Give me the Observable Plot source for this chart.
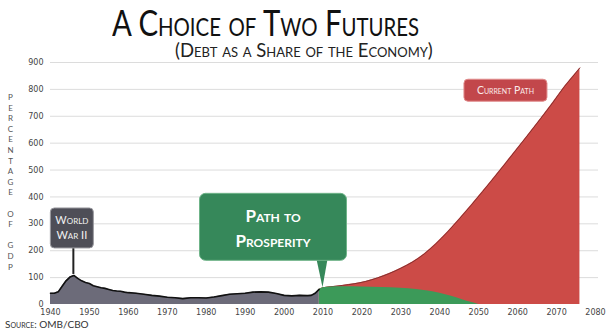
<!DOCTYPE html>
<html>
<head>
<meta charset="utf-8">
<script src="https://cdn.jsdelivr.net/npm/d3@7"></script>
<script src="https://cdn.jsdelivr.net/npm/@observablehq/plot@0.6"></script>
<style>
  html, body { margin: 0; padding: 0; background: #fff; }
  #wrap { position: relative; width: 613px; height: 334px; overflow: hidden; }
  #chart { position: absolute; left: 0; top: 0; }
  .ov { position: absolute; white-space: nowrap; color: #1a1a1a; }
  #title { left: 112px; top: 7px; font: 400 36px/30px Lato, sans-serif; font-variant-caps: small-caps; color: #111; transform-origin: 0 0; transform: scaleX(0.815); }
  #subtitle { left: 175px; top: 42px; font: 400 18.5px/16px Lato, sans-serif; font-variant-caps: small-caps; color: #222; }
  #source { left: 5px; top: 319px; font: 400 10px/10px Lato, sans-serif; font-variant-caps: small-caps; color: #333; }
  .yl { position: absolute; left: 6px; width: 9px; text-align: center; font: 400 8px/8px Lato, sans-serif; color: #555; }
</style>
</head>
<body>
<div id="wrap">
  <div id="chart"></div>
  <div id="title" class="ov">A Choice of Two Futures</div>
  <div id="subtitle" class="ov">(Debt as a Share of the Economy)</div>
  <div id="source" class="ov">Source: OMB/CBO</div>
</div>
<script>
// ---- data ----
const xTicks = [1940,1950,1960,1970,1980,1990,2000,2010,2020,2030,2040,2050,2060,2070,2080];
const yTicks = [0,100,200,300,400,500,600,700,800,900];

const histYears = [1940,1941,1942,1943,1944,1945,1946,1947,1948,1949,1950,1951,1952,1953,1954,1955,1956,1957,1958,1959,1960,1962,1964,1966,1968,1970,1972,1974,1976,1978,1980,1982,1984,1986,1988,1990,1992,1994,1996,1998,2000,2002,2004,2006,2007,2008,2009];
const histDebt  = [42,42,47,68,88,102,108,97,88,82,78,70,66,62,60,56,52,50,49,46,44,42,38,34,31,27,25,22,25,25,24,28,33,38,40,42,46,47,46,41,34,32,34,33,34,42,56];

const prosperityYears = [2009,2010,2012,2015,2020,2025,2030,2034,2037,2040,2043,2046,2048,2050];
const prosperityDebt  = [56,62,65,66,65,63,60,56,50,42,31,17,8,0];

const currentYears = [2009,2010,2012,2015,2018,2021,2024,2027,2030,2033,2036,2039,2042,2045,2048,2051,2054,2057,2060,2063,2066,2069,2072,2074,2076];
const currentDebt  = [56,62,66,71,77,86,99,115,135,158,188,226,270,318,368,420,473,527,582,637,693,750,810,845,880];

const yLabelLetters = ["P","E","R","C","E","N","T","A","G","E","","O","F","","G","D","P"];

const callouts = [
  {lines: ["World", "War II"], year: 1946, value: 108},
  {lines: ["Path to", "Prosperity"], year: 2010, value: 62},
  {lines: ["Current Path"], year: 2057, value: 795}
];

// ---- tables ----
const hist = histYears.map((y, i) => ({year: y, value: histDebt[i]}));
const pros = prosperityYears.map((y, i) => ({year: y, value: prosperityDebt[i]}));
const curr = currentYears.map((y, i) => ({year: y, value: currentDebt[i]}));

const plot = Plot.plot({
  width: 613,
  height: 334,
  marginTop: 62,
  marginBottom: 30,
  marginLeft: 50,
  marginRight: 18,
  x: {domain: [1940, 2080]},
  y: {domain: [0, 900]},
  style: {fontFamily: "DejaVu Sans, sans-serif", fontSize: "8px", color: "#444", background: "transparent"},
  marks: [
    Plot.ruleY(yTicks.filter(d => d > 0), {stroke: "#dcdcdc", strokeWidth: 1, insetRight: -3}),
    Plot.areaY(curr, {x: "year", y: "value", fill: "#cc4b47", curve: "monotone-x"}),
    Plot.lineY(curr, {x: "year", y: "value", stroke: "#7d2d2b", strokeWidth: 0.9, curve: "monotone-x"}),
    Plot.areaY(pros, {x: "year", y: "value", fill: "#3c9a59", curve: "monotone-x"}),
    Plot.areaY(hist, {x: "year", y: "value", fill: "#6c6b79"}),
    Plot.lineY(hist, {x: "year", y: "value", stroke: "#111", strokeWidth: 1.6}),
    Plot.axisX({ticks: xTicks, tickSize: 0, tickPadding: 5, tickFormat: d => String(d), label: null}),
    Plot.axisY({ticks: yTicks, tickSize: 0, tickPadding: 7, label: null})
  ]
});
document.getElementById("chart").appendChild(plot);

const sx = plot.scale("x"), sy = plot.scale("y");
const svg = d3.select(plot);
const g = svg.append("g").attr("font-family", "Lato, sans-serif").style("font-variant", "small-caps");

// World War II callout
{
  const c = callouts[0];
  const tx = sx.apply(c.year), ty = sy.apply(c.value);
  g.append("line").attr("x1", tx).attr("x2", tx).attr("y1", ty - 28).attr("y2", ty - 1)
    .attr("stroke", "#222").attr("stroke-width", 2);
  g.append("rect").attr("x", tx - 23).attr("y", ty - 67).attr("width", 43).attr("height", 40)
    .attr("rx", 4).attr("fill", "#4e4e57").attr("stroke", "#9a9aa0").attr("stroke-width", 1);
  c.lines.forEach((t, i) => g.append("text").attr("x", tx - 1.5).attr("y", ty - 51 + i * 15)
    .attr("text-anchor", "middle").attr("fill", "#f2f2f2").attr("font-size", 11).text(t));
}
// Path to Prosperity callout
{
  const c = callouts[1];
  const tx = sx.apply(c.year), ty = sy.apply(c.value);
  const top = ty - 94, bottom = ty - 27, left = tx - 123, right = tx + 24;
  g.append("path").attr("d", `M${tx - 6},${bottom - 1}L${tx},${ty}L${tx + 5},${bottom - 1}Z`).attr("fill", "#36885a");
  g.append("rect").attr("x", left).attr("y", top).attr("width", right - left).attr("height", bottom - top)
    .attr("rx", 6).attr("fill", "#36885a").attr("stroke", "#6fb489").attr("stroke-width", 1);
  c.lines.forEach((t, i) => g.append("text").attr("x", (left + right) / 2).attr("y", top + 29 + i * 25)
    .attr("text-anchor", "middle").attr("fill", "#fff").attr("font-weight", 700).attr("font-size", 17).text(t));
}
// Current Path callout
{
  const c = callouts[2];
  const cx = sx.apply(c.year), cy = sy.apply(c.value);
  g.append("rect").attr("x", cx - 41.5).attr("y", cy - 11).attr("width", 83).attr("height", 22)
    .attr("rx", 4).attr("fill", "#c2474b").attr("stroke", "#e18c8c").attr("stroke-width", 1);
  g.append("text").attr("x", cx).attr("y", cy + 3.5).attr("text-anchor", "middle")
    .attr("fill", "#fbeaea").attr("font-size", 10.5).text(c.lines[0]);
}

// stacked y-axis label
const wrap = document.getElementById("wrap");
let yy = 93;
yLabelLetters.forEach(ch => {
  if (ch) {
    const d = document.createElement("div");
    d.className = "yl";
    d.style.top = yy + "px";
    d.textContent = ch;
    wrap.appendChild(d);
  }
  yy += 10.6;
});
</script>
</body>
</html>
